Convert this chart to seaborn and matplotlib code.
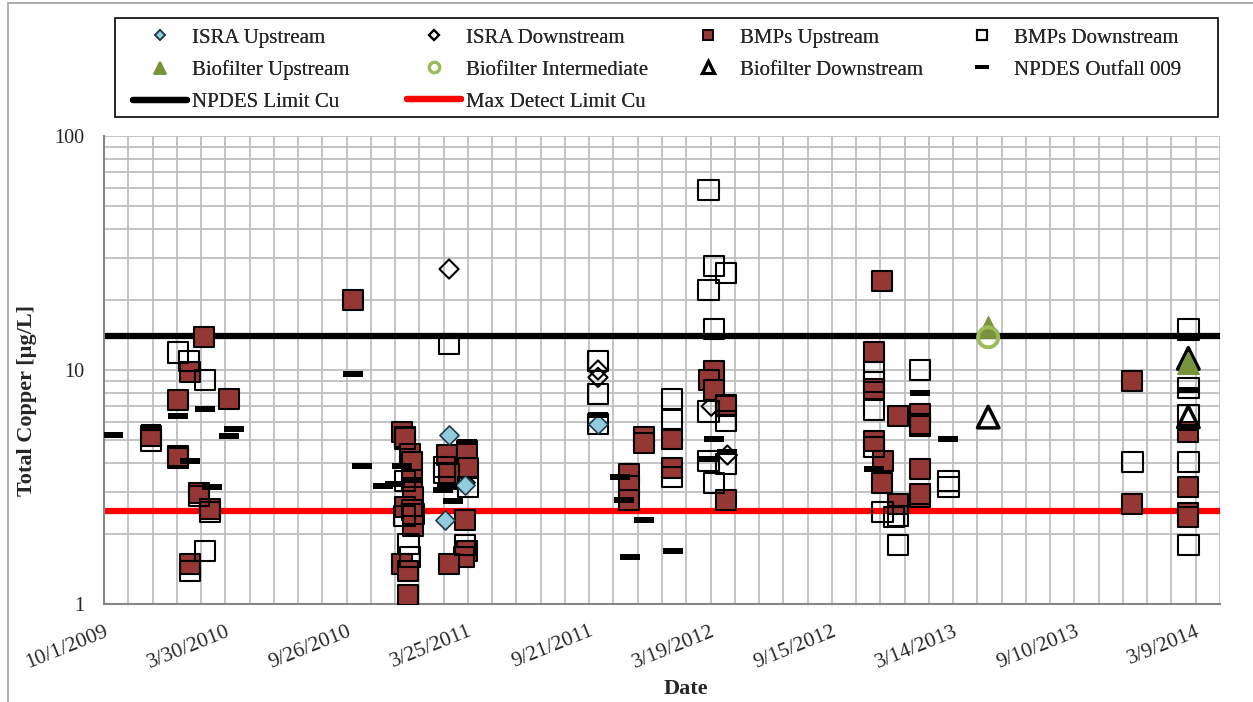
import matplotlib
matplotlib.use('Agg')
import matplotlib.pyplot as plt
import matplotlib.ticker as mticker
from matplotlib.lines import Line2D
from matplotlib.patches import Rectangle
from matplotlib.path import Path
import seaborn as sns
import pandas as pd

# ---- data ----
isra_up_dates = ['2011-02-25', '2011-03-21', '2011-02-19', '2011-10-04']
isra_up_vals = [5.28, 3.22, 2.28, 5.87]

isra_down_dates = ['2011-02-25', '2011-03-21', '2011-10-04', '2011-10-04', '2012-03-20', '2012-04-13']
isra_down_vals = [27.0, 3.3, 10.0, 9.3, 7.0, 4.33]

bmp_up_dates = ['2009-12-10', '2010-01-19', '2010-01-19', '2010-02-06', '2010-02-26', '2010-04-04',
                '2010-02-19', '2010-03-07', '2010-02-06', '2010-10-06', '2010-12-17', '2010-12-22',
                '2010-12-29', '2011-01-01', '2011-01-01', '2011-01-03', '2010-12-22', '2011-01-01',
                '2011-01-03', '2010-12-17', '2010-12-26', '2010-12-26', '2011-02-22', '2011-03-24',
                '2011-03-25', '2011-02-25', '2011-03-21', '2011-03-24', '2011-03-19', '2011-02-25',
                '2011-11-19', '2011-11-19', '2011-11-19', '2011-12-11', '2011-12-11', '2012-01-22',
                '2012-01-22', '2012-03-24', '2012-03-16', '2012-03-24', '2012-04-11', '2012-04-11',
                '2012-11-17', '2012-11-17', '2012-11-17', '2012-11-30', '2012-11-29', '2012-11-29',
                '2012-12-22', '2012-12-22', '2013-01-24', '2013-01-24', '2013-01-24', '2013-01-24',
                '2013-01-24', '2013-12-05', '2013-12-05', '2014-02-26', '2014-02-26', '2014-02-26',
                '2014-02-26']
bmp_up_vals = [5.2, 7.45, 4.29, 9.8, 13.9, 7.5,
               2.98, 2.55, 1.48, 19.9, 5.43, 5.17,
               4.37, 4.05, 3.39, 2.86, 2.6, 2.52,
               2.15, 1.48, 1.38, 1.09, 4.33, 4.5,
               3.81, 3.59, 2.28, 1.68, 1.59, 1.48,
               3.59, 3.2, 2.78, 5.17, 4.88, 5.07,
               3.81, 9.9, 9.06, 8.2, 7.1, 2.78,
               11.9, 8.3, 4.97, 4.08, 3.28, 24.0,
               6.36, 2.67, 6.5, 5.87, 3.78, 2.86,
               2.95, 8.96, 2.67, 5.43, 3.16, 2.45,
               2.35]

bmp_down_dates = ['2009-12-10', '2010-01-19', '2010-02-04', '2010-02-28', '2010-01-19', '2010-02-19',
                  '2010-03-07', '2010-02-28', '2010-02-06', '2011-02-25', '2010-12-22', '2010-12-22',
                  '2010-12-21', '2011-01-03', '2010-12-27', '2010-12-29', '2011-02-18', '2011-02-18',
                  '2011-03-25', '2011-03-21', '2011-10-04', '2011-10-04', '2011-10-04', '2012-01-22',
                  '2012-01-22', '2012-01-22', '2012-03-16', '2012-03-24', '2012-04-11', '2012-03-16',
                  '2012-03-24', '2012-03-16', '2012-04-11', '2012-04-11', '2012-03-16', '2012-03-24',
                  '2012-04-11', '2012-11-17', '2012-11-17', '2012-11-17', '2012-11-17', '2012-11-29',
                  '2012-12-16', '2012-12-22', '2012-12-22', '2013-01-24', '2013-01-24', '2013-03-07',
                  '2013-03-07', '2013-12-05', '2014-02-26', '2014-02-26', '2014-02-26', '2014-02-26',
                  '2014-02-26']
bmp_down_vals = [5.0, 11.9, 10.9, 9.06, 4.2, 2.9,
                 2.47, 1.68, 1.38, 12.9, 5.1, 3.35,
                 2.38, 2.42, 1.80, 1.59, 3.85, 3.63,
                 3.16, 1.79, 10.9, 7.9, 5.87, 7.5,
                 6.12, 3.49, 58.8, 27.8, 26.0, 22.0,
                 15.0, 6.65, 7.0, 6.05, 4.08, 3.28,
                 3.97, 9.8, 8.9, 6.75, 4.69, 2.47,
                 2.35, 2.38, 1.79, 10.0, 5.77, 3.35,
                 3.16, 4.04, 14.9, 8.4, 6.43, 4.04,
                 1.79]

bio_up_dates = ['2013-05-05', '2014-02-26']
bio_up_vals = [15.3, 10.7]

bio_mid_dates = ['2013-05-05']
bio_mid_vals = [13.8]

bio_down_dates = ['2013-05-05', '2014-02-26', '2014-02-26']
bio_down_vals = [6.29, 11.2, 6.3]

outfall_dates = ['2009-10-14', '2009-12-10', '2010-01-19', '2010-02-06', '2010-02-28', '2010-03-10',
                 '2010-04-12', '2010-04-04', '2010-10-06', '2010-10-19', '2010-11-19', '2010-12-07',
                 '2010-12-17', '2011-01-03', '2011-02-16', '2011-02-22', '2011-03-03', '2011-03-24',
                 '2011-10-04', '2011-11-06', '2011-11-12', '2011-11-21', '2011-12-11', '2012-01-23',
                 '2012-03-24', '2012-03-15', '2012-04-13', '2012-11-17', '2013-01-24', '2013-03-07',
                 '2014-02-26', '2014-02-26']
outfall_vals = [5.28, 5.7, 6.36, 4.08, 6.8, 3.16,
                5.6, 5.2, 9.6, 3.89, 3.19, 3.26,
                3.89, 3.39, 3.07, 3.16, 2.76, 4.9,
                6.4, 3.49, 2.78, 1.59, 2.28, 1.68,
                5.07, 4.16, 4.46, 3.78, 7.97, 5.07,
                8.2, 5.65]

npdes_limit = 14.0
max_detect_limit = 2.5

tick_labels = ['10/1/2009', '3/30/2010', '9/26/2010', '3/25/2011', '9/21/2011',
               '3/19/2012', '9/15/2012', '3/14/2013', '9/10/2013', '3/9/2014']
x_start = '2009-10-01'
x_end = '2014-04-14'

# ---- styling ----
sns.set_style('white')
plt.rcParams['font.family'] = ['Liberation Serif', 'DejaVu Serif']
plt.rcParams['font.size'] = 14.5

W, H = 1253, 702
grid_col = '#BFBFBF'
dash = Path([(-1, -0.25), (1, -0.25), (1, 0.25), (-1, 0.25), (-1, -0.25)],
            [Path.MOVETO, Path.LINETO, Path.LINETO, Path.LINETO, Path.CLOSEPOLY])

fig = plt.figure(figsize=(W / 100, H / 100), dpi=100)
ax = fig.add_axes([104 / W, 1 - 604 / H, (1220 - 104) / W, (604 - 136) / H])

ax.axhline(npdes_limit, color='black', lw=4.5, zorder=2)
ax.axhline(max_detect_limit, color='#FF0000', lw=4.5, zorder=2)

series = [
    (isra_down_dates, isra_down_vals, 3.1, dict(marker='D', s=95, facecolor='none', edgecolor='black', linewidth=1.5)),
    (bmp_up_dates, bmp_up_vals, 3.2, dict(marker='s', s=215, color='#953735', edgecolor='black', linewidth=1.5)),
    (bmp_down_dates, bmp_down_vals, 3.3, dict(marker='s', s=215, facecolor='none', edgecolor='black', linewidth=1.5)),
    (isra_up_dates, isra_up_vals, 3.4, dict(marker='D', s=95, color='#93CDDD', edgecolor='#1F3A4A', linewidth=1.2)),
    (bio_down_dates, bio_down_vals, 3.5, dict(marker='^', s=240, facecolor='none', edgecolor='black', linewidth=2.5)),
    (bio_up_dates, bio_up_vals, 3.6, dict(marker='^', s=240, color='#77933C', edgecolor='#77933C', linewidth=1)),
    (bio_mid_dates, bio_mid_vals, 3.7, dict(marker='o', s=210, facecolor='none', edgecolor='#9BBB59', linewidth=2.8)),
    (outfall_dates, outfall_vals, 3.8, dict(marker=dash, s=210, color='black', edgecolor='black', linewidth=0)),
]
for dates, vals, z, kw in series:
    df = pd.DataFrame({'Date': pd.to_datetime(dates), 'Cu': vals})
    sns.scatterplot(data=df, x='Date', y='Cu', ax=ax, zorder=z, legend=False, **kw)

ax.set_yscale('log')
ax.set_ylim(1, 100)
ax.yaxis.set_major_locator(mticker.FixedLocator([1, 10, 100]))
ax.yaxis.set_major_formatter(mticker.FixedFormatter(['1', '10', '100']))
ax.yaxis.set_minor_locator(mticker.LogLocator(base=10, subs=range(2, 10)))
ax.yaxis.set_minor_formatter(mticker.NullFormatter())

ax.set_xlim(pd.Timestamp(x_start), pd.Timestamp(x_end))
tick_dates = pd.to_datetime(tick_labels, format='%m/%d/%Y')
ax.set_xticks(tick_dates)
ax.set_xticklabels(tick_labels, rotation=22, ha='right', va='top', rotation_mode='anchor')
ax.set_xticks(pd.date_range(x_start, x_end, freq='36D'), minor=True)

ax.grid(which='both', color=grid_col, lw=1.3, zorder=0)
ax.set_axisbelow(True)
for side in ['top', 'right']:
    ax.spines[side].set_visible(False)
for side in ['left', 'bottom']:
    ax.spines[side].set_color('#868686')
    ax.spines[side].set_linewidth(1.5)
ax.tick_params(axis='both', which='major', direction='out', length=6, color='#868686', width=1.3)
ax.tick_params(axis='y', which='major', pad=8, labelsize=14.5)
ax.tick_params(axis='x', which='major', pad=7, labelsize=15.5)
ax.tick_params(axis='both', which='minor', length=0)

ax.set_xlabel('Date', fontweight='bold', fontsize=16, va='center')
ax.set_ylabel('Total Copper [µg/L]', fontweight='bold', fontsize=16, va='center')
ax.xaxis.set_label_coords((686 - 104) / 1116, (604 - 689) / 468)
ax.yaxis.set_label_coords((27 - 104) / 1116, (604 - 400) / 468)

# legend: four columns laid out like the spreadsheet legend
def mk(marker, ms, fc, ec, mew=1.2):
    return Line2D([], [], ls='none', marker=marker, markersize=ms, markerfacecolor=fc,
                  markeredgecolor=ec, markeredgewidth=mew)

h = {
    'ISRA Upstream': mk('D', 5, '#93CDDD', '#1F3A4A'),
    'ISRA Downstream': mk('D', 5, 'none', 'black', 1.5),
    'BMPs Upstream': mk('s', 7.5, '#953735', 'black'),
    'BMPs Downstream': mk('s', 7.5, 'none', 'black', 1.5),
    'Biofilter Upstream': mk('^', 8, '#77933C', '#77933C'),
    'Biofilter Intermediate': mk('o', 7.5, 'none', '#9BBB59', 2.2),
    'Biofilter Downstream': mk('^', 8, 'none', 'black', 2.2),
    'NPDES Outfall 009': mk(dash, 10, 'black', 'black', 0),
    'NPDES Limit Cu': Line2D([], [], color='black', lw=4.5),
    'Max Detect Limit Cu': Line2D([], [], color='#FF0000', lw=4.5),
}
columns = [['ISRA Upstream', 'Biofilter Upstream', 'NPDES Limit Cu'],
           ['ISRA Downstream', 'Biofilter Intermediate', 'Max Detect Limit Cu'],
           ['BMPs Upstream', 'Biofilter Downstream'],
           ['BMPs Downstream', 'NPDES Outfall 009']]
col_x = [133, 407, 681, 955]
for cx, names in zip(col_x, columns):
    lg = fig.legend([h[k] for k in names], names, loc='upper left',
                    bbox_to_anchor=(cx / W, 1 - 28 / H), frameon=False, fontsize=15,
                    handlelength=2.6, handletextpad=0.25, labelspacing=0.6,
                    borderpad=0, borderaxespad=0)
    fig.add_artist(lg)
fig.add_artist(Rectangle((115 / W, 1 - 117 / H), (1218 - 115) / W, 99 / H, transform=fig.transFigure,
                         fill=False, edgecolor='black', lw=1.2))

# outer chart border
fig.add_artist(Line2D([8 / W, 8 / W], [0, 1 - 3 / H], color='#A0A0A0', lw=1.2))
fig.add_artist(Line2D([8 / W, 1], [1 - 3 / H, 1 - 3 / H], color='#A0A0A0', lw=1.2))

fig.savefig('out.png', dpi=100)
